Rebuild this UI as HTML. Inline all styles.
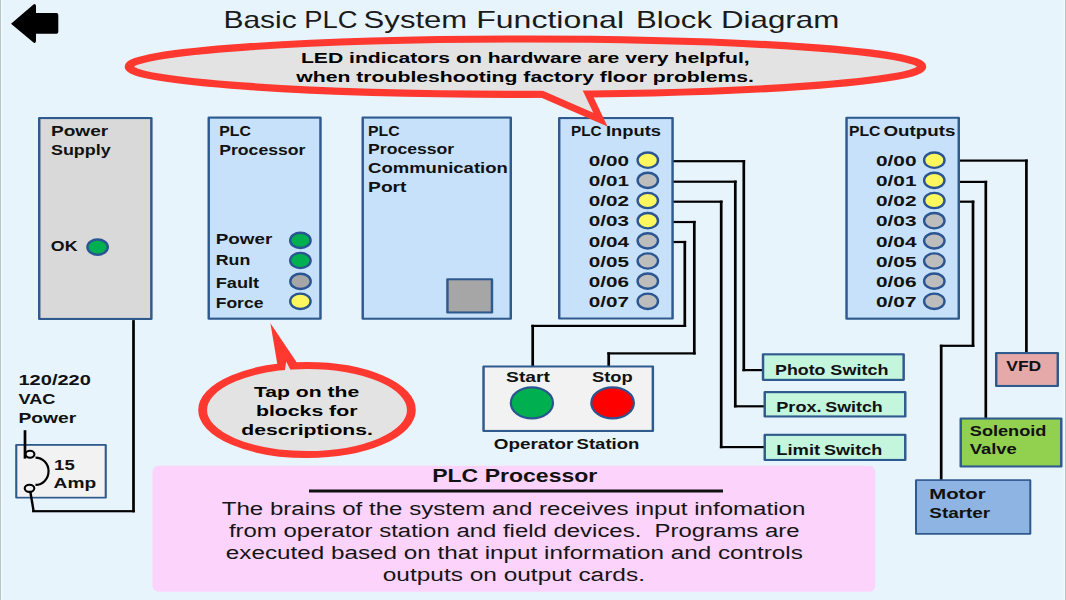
<!DOCTYPE html>
<html><head><meta charset="utf-8"><style>
html,body{margin:0;padding:0;background:#E8F4FC;}
svg{display:block;font-family:"Liberation Sans",sans-serif;}
</style></head><body>
<svg width="1066" height="600" viewBox="0 0 1066 600">
<rect width="1066" height="600" fill="#E8F4FC"/>
<rect x="0" y="0" width="1.2" height="600" fill="#BAC5C8"/>
<rect x="1.2" y="0" width="1" height="600" fill="#F2FCFF"/>
<rect x="1064.8" y="0" width="1.2" height="600" fill="#BAC5C8"/>
<rect x="1063.8" y="0" width="1" height="600" fill="#F2FCFF"/>
<path d="M11,23.7 L33.5,4.5 Q35.5,3 36,6 L36,13 L56.5,13 Q58.3,13 58.3,15 L58.3,32 Q58.3,33.8 56.5,33.8 L36,33.8 L36,41 Q35.5,44 33.5,42.5 Z" fill="#000"/>
<text x="223.44" y="28.10" font-size="23.2" font-weight="normal" fill="#1a1a1a" textLength="73.32" lengthAdjust="spacingAndGlyphs">Basic</text>
<text x="304.24" y="28.10" font-size="23.2" font-weight="normal" fill="#1a1a1a" textLength="53.32" lengthAdjust="spacingAndGlyphs">PLC</text>
<text x="363.64" y="28.10" font-size="23.2" font-weight="normal" fill="#1a1a1a" textLength="103.62" lengthAdjust="spacingAndGlyphs">System</text>
<text x="476.24" y="28.10" font-size="23.2" font-weight="normal" fill="#1a1a1a" textLength="147.82" lengthAdjust="spacingAndGlyphs">Functional</text>
<text x="635.94" y="28.10" font-size="23.2" font-weight="normal" fill="#1a1a1a" textLength="76.02" lengthAdjust="spacingAndGlyphs">Block</text>
<text x="720.94" y="28.10" font-size="23.2" font-weight="normal" fill="#1a1a1a" textLength="118.32" lengthAdjust="spacingAndGlyphs">Diagram</text>
<rect x="671.65" y="160.10" width="73.50" height="2.2" fill="#000"/>
<rect x="742.45" y="160.10" width="2.7" height="211.10" fill="#000"/>
<rect x="742.45" y="369.00" width="21.90" height="2.2" fill="#000"/>
<rect x="671.65" y="180.60" width="65.00" height="2.2" fill="#000"/>
<rect x="733.95" y="180.60" width="2.7" height="226.80" fill="#000"/>
<rect x="733.95" y="405.20" width="31.40" height="2.2" fill="#000"/>
<rect x="671.65" y="200.60" width="50.90" height="2.2" fill="#000"/>
<rect x="719.85" y="200.60" width="2.7" height="247.60" fill="#000"/>
<rect x="719.85" y="446.00" width="45.50" height="2.2" fill="#000"/>
<rect x="671.65" y="220.90" width="24.00" height="2.2" fill="#000"/>
<rect x="692.95" y="220.90" width="2.7" height="133.60" fill="#000"/>
<rect x="607.35" y="352.30" width="88.30" height="2.2" fill="#000"/>
<rect x="607.35" y="352.30" width="2.7" height="14.80" fill="#000"/>
<rect x="671.65" y="240.90" width="14.50" height="2.2" fill="#000"/>
<rect x="683.45" y="240.90" width="2.7" height="86.10" fill="#000"/>
<rect x="531.35" y="324.80" width="154.80" height="2.2" fill="#000"/>
<rect x="531.35" y="324.80" width="2.7" height="42.30" fill="#000"/>
<rect x="957.65" y="159.50" width="70.10" height="2.2" fill="#000"/>
<rect x="1025.05" y="159.50" width="2.7" height="194.60" fill="#000"/>
<rect x="957.65" y="180.80" width="29.50" height="2.2" fill="#000"/>
<rect x="984.45" y="180.80" width="2.7" height="238.30" fill="#000"/>
<rect x="957.65" y="200.60" width="16.70" height="2.2" fill="#000"/>
<rect x="971.65" y="200.60" width="2.7" height="146.30" fill="#000"/>
<rect x="939.85" y="344.70" width="34.50" height="2.2" fill="#000"/>
<rect x="939.85" y="344.70" width="2.7" height="136.40" fill="#000"/>
<rect x="38.00" y="117.00" width="114.60" height="203.00" fill="#2F5A8E" rx="1.3"/>
<rect x="40.46" y="119.09" width="109.67" height="198.82" fill="#D9D9D9"/>
<text x="50.99" y="136.10" font-size="14.2" font-weight="bold" fill="#111" textLength="57.22" lengthAdjust="spacingAndGlyphs">Power</text>
<text x="50.99" y="154.80" font-size="14.2" font-weight="bold" fill="#111" textLength="59.72" lengthAdjust="spacingAndGlyphs">Supply</text>
<text x="50.89" y="251.10" font-size="14.2" font-weight="bold" fill="#111" textLength="26.62" lengthAdjust="spacingAndGlyphs">OK</text>
<ellipse cx="97.60" cy="247.10" rx="10.20" ry="7.65" fill="#00B050" stroke="#2B5592" stroke-width="2.4"/>
<rect x="207.50" y="116.60" width="114.20" height="203.10" fill="#2F5A8E" rx="1.3"/>
<rect x="209.96" y="118.69" width="109.27" height="198.92" fill="#C6E1F9"/>
<text x="219.29" y="136.10" font-size="14.2" font-weight="bold" fill="#111" textLength="31.62" lengthAdjust="spacingAndGlyphs">PLC</text>
<text x="219.29" y="154.85" font-size="14.2" font-weight="bold" fill="#111" textLength="86.12" lengthAdjust="spacingAndGlyphs">Processor</text>
<text x="215.69" y="244.20" font-size="14.2" font-weight="bold" fill="#111" textLength="56.52" lengthAdjust="spacingAndGlyphs">Power</text>
<text x="215.69" y="264.90" font-size="14.2" font-weight="bold" fill="#111" textLength="34.62" lengthAdjust="spacingAndGlyphs">Run</text>
<text x="215.69" y="288.10" font-size="14.2" font-weight="bold" fill="#111" textLength="43.42" lengthAdjust="spacingAndGlyphs">Fault</text>
<text x="215.69" y="308.20" font-size="14.2" font-weight="bold" fill="#111" textLength="47.72" lengthAdjust="spacingAndGlyphs">Force</text>
<ellipse cx="300.40" cy="240.40" rx="10.20" ry="7.65" fill="#00B050" stroke="#2B5592" stroke-width="2.4"/>
<ellipse cx="300.40" cy="260.50" rx="10.20" ry="7.65" fill="#00B050" stroke="#2B5592" stroke-width="2.4"/>
<ellipse cx="300.50" cy="281.40" rx="10.20" ry="7.65" fill="#A6A6A6" stroke="#2B5592" stroke-width="2.4"/>
<ellipse cx="300.40" cy="301.30" rx="10.20" ry="7.65" fill="#FFF75E" stroke="#2B5592" stroke-width="2.4"/>
<rect x="361.50" y="116.50" width="150.50" height="203.30" fill="#2F5A8E" rx="1.3"/>
<rect x="363.96" y="118.59" width="145.57" height="199.12" fill="#C6E1F9"/>
<text x="368.09" y="135.90" font-size="14.2" font-weight="bold" fill="#111" textLength="31.62" lengthAdjust="spacingAndGlyphs">PLC</text>
<text x="368.09" y="154.20" font-size="14.2" font-weight="bold" fill="#111" textLength="86.12" lengthAdjust="spacingAndGlyphs">Processor</text>
<text x="368.09" y="172.60" font-size="14.2" font-weight="bold" fill="#111" textLength="139.72" lengthAdjust="spacingAndGlyphs">Communication</text>
<text x="368.09" y="191.70" font-size="14.2" font-weight="bold" fill="#111" textLength="38.42" lengthAdjust="spacingAndGlyphs">Port</text>
<rect x="446.20" y="278.20" width="47.00" height="35.30" fill="#2F5A8E" rx="1.3"/>
<rect x="448.66" y="280.29" width="42.07" height="31.12" fill="#A6A6A6"/>
<rect x="558.00" y="117.00" width="115.80" height="202.60" fill="#2F5A8E" rx="1.3"/>
<rect x="560.46" y="119.09" width="110.87" height="198.42" fill="#C6E1F9"/>
<text x="570.99" y="135.90" font-size="14.2" font-weight="bold" fill="#111" textLength="30.52" lengthAdjust="spacingAndGlyphs">PLC</text>
<text x="605.99" y="135.90" font-size="14.2" font-weight="bold" fill="#111" textLength="55.02" lengthAdjust="spacingAndGlyphs">Inputs</text>
<text x="588.79" y="166.00" font-size="14.2" font-weight="bold" fill="#111" textLength="40.22" lengthAdjust="spacingAndGlyphs">0/00</text>
<ellipse cx="647.80" cy="160.20" rx="10.20" ry="7.65" fill="#FFF75E" stroke="#2B5592" stroke-width="2.4"/>
<text x="588.79" y="186.16" font-size="14.2" font-weight="bold" fill="#111" textLength="40.22" lengthAdjust="spacingAndGlyphs">0/01</text>
<ellipse cx="647.80" cy="180.36" rx="10.20" ry="7.65" fill="#BDBDBD" stroke="#2B5592" stroke-width="2.4"/>
<text x="588.79" y="206.32" font-size="14.2" font-weight="bold" fill="#111" textLength="40.22" lengthAdjust="spacingAndGlyphs">0/02</text>
<ellipse cx="647.80" cy="200.52" rx="10.20" ry="7.65" fill="#FFF75E" stroke="#2B5592" stroke-width="2.4"/>
<text x="588.79" y="226.48" font-size="14.2" font-weight="bold" fill="#111" textLength="40.22" lengthAdjust="spacingAndGlyphs">0/03</text>
<ellipse cx="647.80" cy="220.68" rx="10.20" ry="7.65" fill="#FFF75E" stroke="#2B5592" stroke-width="2.4"/>
<text x="588.79" y="246.64" font-size="14.2" font-weight="bold" fill="#111" textLength="40.22" lengthAdjust="spacingAndGlyphs">0/04</text>
<ellipse cx="647.80" cy="240.84" rx="10.20" ry="7.65" fill="#BDBDBD" stroke="#2B5592" stroke-width="2.4"/>
<text x="588.79" y="266.80" font-size="14.2" font-weight="bold" fill="#111" textLength="40.22" lengthAdjust="spacingAndGlyphs">0/05</text>
<ellipse cx="647.80" cy="261.00" rx="10.20" ry="7.65" fill="#BDBDBD" stroke="#2B5592" stroke-width="2.4"/>
<text x="588.79" y="286.96" font-size="14.2" font-weight="bold" fill="#111" textLength="40.22" lengthAdjust="spacingAndGlyphs">0/06</text>
<ellipse cx="647.80" cy="281.16" rx="10.20" ry="7.65" fill="#BDBDBD" stroke="#2B5592" stroke-width="2.4"/>
<text x="588.79" y="307.12" font-size="14.2" font-weight="bold" fill="#111" textLength="40.22" lengthAdjust="spacingAndGlyphs">0/07</text>
<ellipse cx="647.80" cy="301.32" rx="10.20" ry="7.65" fill="#BDBDBD" stroke="#2B5592" stroke-width="2.4"/>
<rect x="845.30" y="116.70" width="114.70" height="203.00" fill="#2F5A8E" rx="1.3"/>
<rect x="847.76" y="118.79" width="109.77" height="198.82" fill="#C6E1F9"/>
<text x="848.99" y="135.90" font-size="14.2" font-weight="bold" fill="#111" textLength="31.42" lengthAdjust="spacingAndGlyphs">PLC</text>
<text x="883.49" y="135.90" font-size="14.2" font-weight="bold" fill="#111" textLength="71.92" lengthAdjust="spacingAndGlyphs">Outputs</text>
<text x="875.99" y="166.00" font-size="14.2" font-weight="bold" fill="#111" textLength="40.52" lengthAdjust="spacingAndGlyphs">0/00</text>
<ellipse cx="934.30" cy="160.20" rx="10.20" ry="7.65" fill="#FFF75E" stroke="#2B5592" stroke-width="2.4"/>
<text x="875.99" y="186.16" font-size="14.2" font-weight="bold" fill="#111" textLength="40.52" lengthAdjust="spacingAndGlyphs">0/01</text>
<ellipse cx="934.30" cy="180.36" rx="10.20" ry="7.65" fill="#FFF75E" stroke="#2B5592" stroke-width="2.4"/>
<text x="875.99" y="206.32" font-size="14.2" font-weight="bold" fill="#111" textLength="40.52" lengthAdjust="spacingAndGlyphs">0/02</text>
<ellipse cx="934.30" cy="200.52" rx="10.20" ry="7.65" fill="#FFF75E" stroke="#2B5592" stroke-width="2.4"/>
<text x="875.99" y="226.48" font-size="14.2" font-weight="bold" fill="#111" textLength="40.52" lengthAdjust="spacingAndGlyphs">0/03</text>
<ellipse cx="934.30" cy="220.68" rx="10.20" ry="7.65" fill="#BDBDBD" stroke="#2B5592" stroke-width="2.4"/>
<text x="875.99" y="246.64" font-size="14.2" font-weight="bold" fill="#111" textLength="40.52" lengthAdjust="spacingAndGlyphs">0/04</text>
<ellipse cx="934.30" cy="240.84" rx="10.20" ry="7.65" fill="#BDBDBD" stroke="#2B5592" stroke-width="2.4"/>
<text x="875.99" y="266.80" font-size="14.2" font-weight="bold" fill="#111" textLength="40.52" lengthAdjust="spacingAndGlyphs">0/05</text>
<ellipse cx="934.30" cy="261.00" rx="10.20" ry="7.65" fill="#BDBDBD" stroke="#2B5592" stroke-width="2.4"/>
<text x="875.99" y="286.96" font-size="14.2" font-weight="bold" fill="#111" textLength="40.52" lengthAdjust="spacingAndGlyphs">0/06</text>
<ellipse cx="934.30" cy="281.16" rx="10.20" ry="7.65" fill="#BDBDBD" stroke="#2B5592" stroke-width="2.4"/>
<text x="875.99" y="307.12" font-size="14.2" font-weight="bold" fill="#111" textLength="40.52" lengthAdjust="spacingAndGlyphs">0/07</text>
<ellipse cx="934.30" cy="301.32" rx="10.20" ry="7.65" fill="#BDBDBD" stroke="#2B5592" stroke-width="2.4"/>
<rect x="761.80" y="353.30" width="143.10" height="27.60" fill="#2F5A8E" rx="1.3"/>
<rect x="764.26" y="355.39" width="138.17" height="23.42" fill="#C4F5DD"/>
<text x="775.09" y="374.90" font-size="14.2" font-weight="bold" fill="#111" textLength="50.42" lengthAdjust="spacingAndGlyphs">Photo</text>
<text x="830.39" y="374.90" font-size="14.2" font-weight="bold" fill="#111" textLength="58.12" lengthAdjust="spacingAndGlyphs">Switch</text>
<rect x="763.50" y="391.10" width="143.00" height="26.40" fill="#2F5A8E" rx="1.3"/>
<rect x="765.96" y="393.19" width="138.07" height="22.22" fill="#C4F5DD"/>
<text x="776.29" y="412.30" font-size="14.2" font-weight="bold" fill="#111" textLength="45.32" lengthAdjust="spacingAndGlyphs">Prox.</text>
<text x="825.29" y="412.30" font-size="14.2" font-weight="bold" fill="#111" textLength="57.42" lengthAdjust="spacingAndGlyphs">Switch</text>
<rect x="763.50" y="433.80" width="143.00" height="27.20" fill="#2F5A8E" rx="1.3"/>
<rect x="765.96" y="435.89" width="138.07" height="23.02" fill="#C4F5DD"/>
<text x="776.29" y="455.40" font-size="14.2" font-weight="bold" fill="#111" textLength="43.92" lengthAdjust="spacingAndGlyphs">Limit</text>
<text x="824.09" y="455.40" font-size="14.2" font-weight="bold" fill="#111" textLength="58.12" lengthAdjust="spacingAndGlyphs">Switch</text>
<rect x="482.30" y="365.40" width="171.80" height="66.60" fill="#2F5A8E" rx="1.3"/>
<rect x="484.76" y="367.49" width="166.87" height="62.42" fill="#F2F2F2"/>
<text x="506.09" y="382.00" font-size="14.2" font-weight="bold" fill="#111" textLength="43.82" lengthAdjust="spacingAndGlyphs">Start</text>
<text x="591.99" y="382.00" font-size="14.2" font-weight="bold" fill="#111" textLength="40.72" lengthAdjust="spacingAndGlyphs">Stop</text>
<ellipse cx="531.90" cy="402.90" rx="21.10" ry="15.50" fill="#00B050" stroke="#2B5592" stroke-width="2.2"/>
<ellipse cx="612.60" cy="402.90" rx="21.30" ry="15.50" fill="#FF0000" stroke="#2B5592" stroke-width="2.2"/>
<text x="493.79" y="449.20" font-size="14.2" font-weight="bold" fill="#111" textLength="79.62" lengthAdjust="spacingAndGlyphs">Operator</text>
<text x="576.59" y="449.20" font-size="14.2" font-weight="bold" fill="#111" textLength="62.72" lengthAdjust="spacingAndGlyphs">Station</text>
<rect x="995.00" y="352.00" width="64.00" height="35.00" fill="#2F5A8E" rx="1.3"/>
<rect x="997.46" y="354.09" width="59.07" height="30.82" fill="#E5A9A9"/>
<text x="1006.29" y="371.35" font-size="14.2" font-weight="bold" fill="#111" textLength="34.92" lengthAdjust="spacingAndGlyphs">VFD</text>
<rect x="959.50" y="417.50" width="103.00" height="50.00" fill="#2F5A8E" rx="1.3"/>
<rect x="961.96" y="419.59" width="98.07" height="45.82" fill="#92D050"/>
<text x="969.79" y="436.10" font-size="14.2" font-weight="bold" fill="#111" textLength="76.67" lengthAdjust="spacingAndGlyphs">Solenoid</text>
<text x="969.79" y="454.35" font-size="14.2" font-weight="bold" fill="#111" textLength="46.92" lengthAdjust="spacingAndGlyphs">Valve</text>
<rect x="915.00" y="479.20" width="116.30" height="55.50" fill="#2F5A8E" rx="1.3"/>
<rect x="917.02" y="480.91" width="112.27" height="52.08" fill="#8EB4E3"/>
<text x="929.29" y="499.30" font-size="14.2" font-weight="bold" fill="#111" textLength="56.42" lengthAdjust="spacingAndGlyphs">Motor</text>
<text x="929.29" y="518.10" font-size="14.2" font-weight="bold" fill="#111" textLength="60.92" lengthAdjust="spacingAndGlyphs">Starter</text>
<text x="18.49" y="385.20" font-size="14.2" font-weight="bold" fill="#111" textLength="72.42" lengthAdjust="spacingAndGlyphs">120/220</text>
<text x="18.49" y="403.80" font-size="14.2" font-weight="bold" fill="#111" textLength="36.92" lengthAdjust="spacingAndGlyphs">VAC</text>
<text x="18.49" y="422.50" font-size="14.2" font-weight="bold" fill="#111" textLength="57.72" lengthAdjust="spacingAndGlyphs">Power</text>
<rect x="15.20" y="444.00" width="91.60" height="54.60" fill="#2F5A8E" rx="1.3"/>
<rect x="17.33" y="445.81" width="87.34" height="50.99" fill="#F2F2F2"/>
<rect x="132.15" y="320.10" width="2.7" height="192.20" fill="#000"/>
<rect x="32.05" y="510.10" width="102.80" height="2.2" fill="#000"/>
<line x1="33.6" y1="511" x2="30.2" y2="491" stroke="#000" stroke-width="2.4"/>
<rect x="23.65" y="430.20" width="2.7" height="28.40" fill="#000"/>
<ellipse cx="30" cy="454.3" rx="4.4" ry="3.5" fill="#F2F2F2" stroke="#000" stroke-width="2.1"/>
<path d="M35.5,457.6 A13,13.6 0 0 1 35.5,484.9" fill="none" stroke="#000" stroke-width="2.2"/>
<ellipse cx="29.5" cy="488.3" rx="4.8" ry="3.6" fill="#F2F2F2" stroke="#000" stroke-width="2.1"/>
<text x="54.09" y="469.90" font-size="14.2" font-weight="bold" fill="#111" textLength="20.62" lengthAdjust="spacingAndGlyphs">15</text>
<text x="53.59" y="488.10" font-size="14.2" font-weight="bold" fill="#111" textLength="42.52" lengthAdjust="spacingAndGlyphs">Amp</text>
<polygon points="523.6,90 607.5,126.5 590.2,90" fill="#FF3830"/>
<g transform="translate(525.45,66.65) scale(1.254,1)"><ellipse cx="0" cy="0" rx="316.03" ry="27.65" fill="#E3E3E3" stroke="#FF3830" stroke-width="7.2"/></g>
<polygon points="536.5,88 593.3,112.7 581.5,88" fill="#E3E3E3"/>
<text x="300.94" y="63.20" font-size="15.3" font-weight="bold" fill="#000" textLength="448.73" lengthAdjust="spacingAndGlyphs">LED indicators on hardware are very helpful,</text>
<text x="296.34" y="82.00" font-size="15.3" font-weight="bold" fill="#000" textLength="457.63" lengthAdjust="spacingAndGlyphs">when troubleshooting factory floor problems.</text>
<polygon points="270.4,323.2 278.3,370 300.5,368" fill="#FF3830"/>
<g transform="translate(307,410) scale(1.257,1)"><ellipse cx="0" cy="0" rx="83.05" ry="44.5" fill="#E3E3E3" stroke="#FF3830" stroke-width="7"/></g>
<polygon points="284.5,373 286.2,361.6 292,373" fill="#E3E3E3"/>
<text x="254.03" y="397.30" font-size="15.5" font-weight="bold" fill="#000" textLength="105.25" lengthAdjust="spacingAndGlyphs">Tap on the</text>
<text x="255.92" y="415.90" font-size="15.5" font-weight="bold" fill="#000" textLength="101.55" lengthAdjust="spacingAndGlyphs">blocks for</text>
<text x="241.22" y="434.60" font-size="15.5" font-weight="bold" fill="#000" textLength="131.65" lengthAdjust="spacingAndGlyphs">descriptions.</text>
<rect x="152.5" y="465.7" width="722.8" height="126" rx="6" fill="#FBD3FB"/>
<text x="432.20" y="482.30" font-size="18" font-weight="bold" fill="#111" textLength="165.10" lengthAdjust="spacingAndGlyphs">PLC Processor</text>
<rect x="309" y="489.5" width="414" height="3" fill="#111"/>
<text x="221.74" y="514.60" font-size="19.2" font-weight="normal" fill="#151515" textLength="583.62" lengthAdjust="spacingAndGlyphs">The brains of the system and receives input infomation</text>
<text x="228.94" y="537.00" font-size="19.2" font-weight="normal" fill="#151515" textLength="570.62" lengthAdjust="spacingAndGlyphs">from operator station and field devices.&#160; Programs are</text>
<text x="225.84" y="559.10" font-size="19.2" font-weight="normal" fill="#151515" textLength="577.02" lengthAdjust="spacingAndGlyphs">executed based on that input information and controls</text>
<text x="382.74" y="581.40" font-size="19.2" font-weight="normal" fill="#151515" textLength="262.22" lengthAdjust="spacingAndGlyphs">outputs on output cards.</text>
</svg></body></html>
